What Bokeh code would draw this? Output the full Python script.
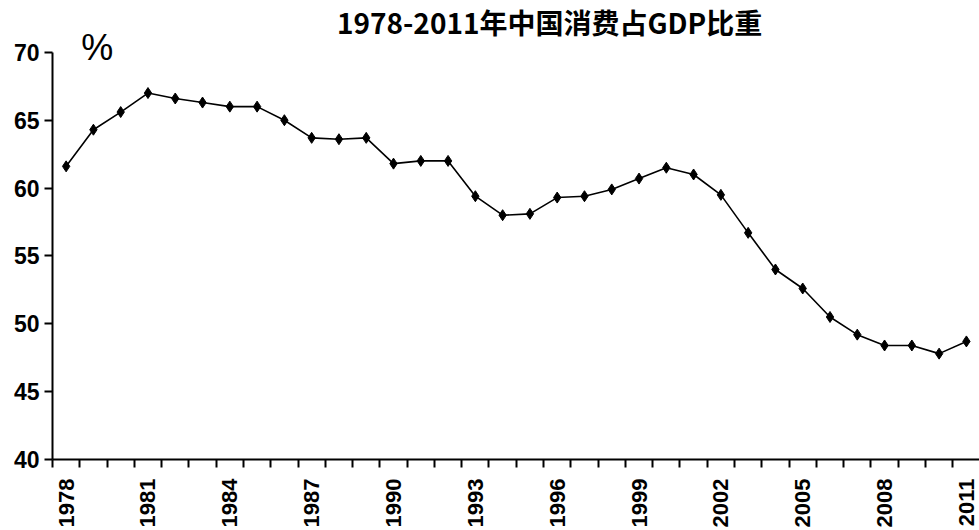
import math
from bokeh.plotting import figure
from bokeh.models import FixedTicker, Range1d, Label
from bokeh.embed import file_html
from bokeh.resources import INLINE

years = list(range(1978, 2012))
share = [61.6, 64.3, 65.6, 67.0, 66.6, 66.3, 66.0, 66.0, 65.0, 63.7,
         63.6, 63.7, 61.8, 62.0, 62.0, 59.4, 58.0, 58.1, 59.3, 59.4,
         59.9, 60.7, 61.5, 61.0, 59.5, 56.7, 54.0, 52.6, 50.5, 49.2,
         48.4, 48.4, 47.8, 48.7]
y_ticks = [40, 45, 50, 55, 60, 65, 70]
x_label_years = list(range(1978, 2012, 3))
title_text = "1978-2011年中国消费占GDP比重"
unit_text = "%"

p = figure(width=979, height=530, output_backend="svg", toolbar_location=None,
           x_range=Range1d(1977.5, 2011.48), y_range=Range1d(40, 73.82),
           min_border_left=52, min_border_right=0, min_border_bottom=70,
           min_border_top=0)

p.grid.visible = False
p.outline_line_color = None
p.background_fill_color = "white"

# x axis
p.xaxis.ticker = FixedTicker(ticks=x_label_years,
                             minor_ticks=[y - 0.5 for y in years] + [years[-1] + 0.5])
p.xaxis.major_tick_out = 0
p.xaxis.major_tick_in = 0
p.xaxis.minor_tick_out = 8
p.xaxis.minor_tick_in = 0
p.xaxis.minor_tick_line_width = 2
p.xaxis.minor_tick_line_color = "black"
p.xaxis.major_label_orientation = math.pi / 2
p.xaxis.major_label_standoff = 11
p.xaxis.major_label_text_font_size = "22px"

# y axis
p.yaxis.ticker = FixedTicker(ticks=y_ticks, minor_ticks=[])
p.yaxis.bounds = (y_ticks[0], y_ticks[-1])
p.yaxis.major_tick_out = 8
p.yaxis.major_tick_in = 0
p.yaxis.major_tick_line_width = 2
p.yaxis.major_tick_line_color = "black"
p.yaxis.major_label_standoff = 5
p.yaxis.major_label_text_font_size = "23px"

for ax in (p.xaxis, p.yaxis):
    ax.axis_line_width = 2
    ax.axis_line_color = "black"
    ax.major_label_text_font = "Liberation Sans"
    ax.major_label_text_font_style = "bold"
    ax.major_label_text_color = "black"

p.line(years, share, line_color="black", line_width=1.6)
p.scatter(years, share, marker="diamond", size=11, color="black")

p.add_layout(Label(x=1995.72, y=72.2, text=title_text, text_font="Noto Sans CJK SC",
                   text_font_style="bold", text_font_size="28px", text_color="black",
                   text_align="center", text_baseline="middle"))
p.add_layout(Label(x=1978.55, y=70.35, text=unit_text, text_font="Liberation Sans",
                   text_font_size="36px", text_color="black",
                   text_align="left", text_baseline="middle"))

open("out.html", "w").write(file_html(p, INLINE))
